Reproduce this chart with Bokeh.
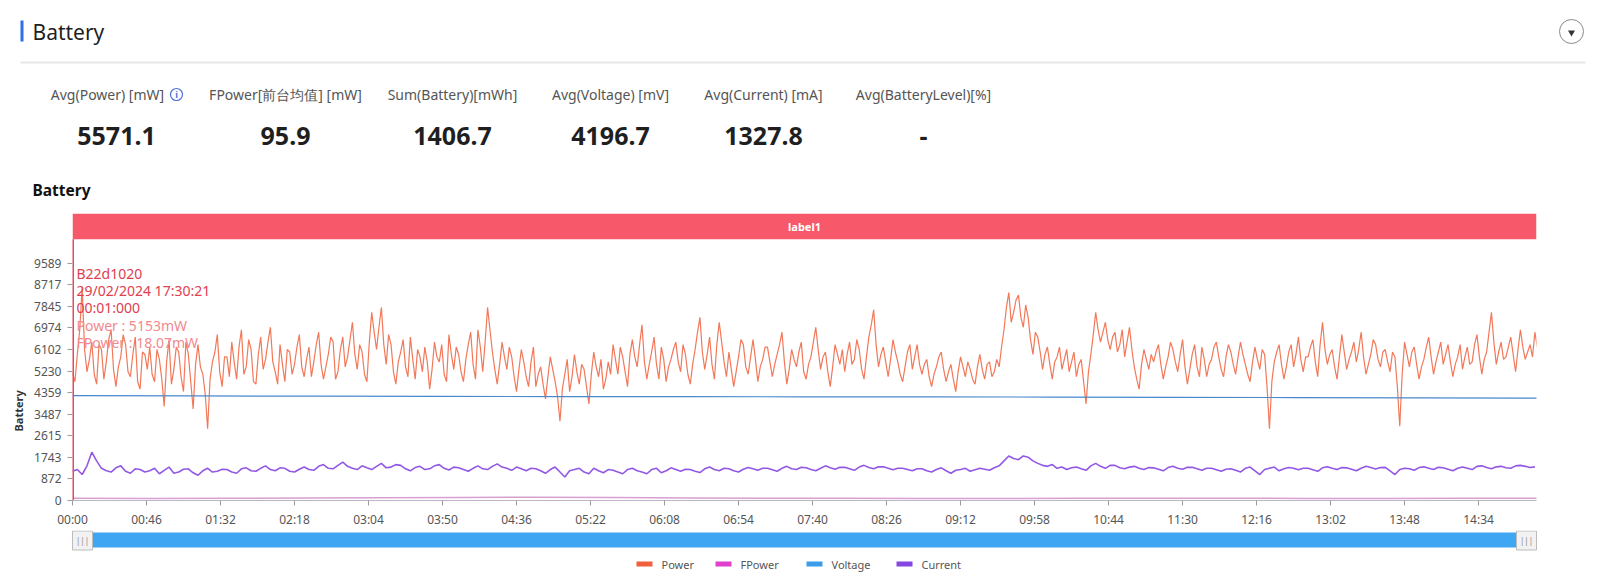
import numpy as np
from bokeh.plotting import figure
from bokeh.models import Range1d, FixedTicker, Title
from bokeh.embed import file_html
from bokeh.resources import INLINE
from bokeh.core.properties import value

# ---------------- data ----------------
page_title = "Battery"
chart_title = "Battery"
stat_labels = ["Avg(Power) [mW]", "FPower[前台均值] [mW]", "Sum(Battery)[mWh]",
               "Avg(Voltage) [mV]", "Avg(Current) [mA]", "Avg(BatteryLevel)[%]"]
stat_values = ["5571.1", "95.9", "1406.7", "4196.7", "1327.8", "-"]

series_names = ["Power", "FPower", "Voltage", "Current"]
series_colors = ["#f0603c", "#e040cc", "#3c9ce8", "#8646e2"]

band_label = "label1"
tooltip_lines = ["B22d1020", "29/02/2024 17:30:21", "00:01:000",
                 "Power :  5153mW", "FPower :  18.07mW"]

xtick_labels = ["00:00", "00:46", "01:32", "02:18", "03:04", "03:50", "04:36", "05:22",
                "06:08", "06:54", "07:40", "08:26", "09:12", "09:58", "10:44", "11:30",
                "12:16", "13:02", "13:48", "14:34"]
ytick_values = [0, 872, 1743, 2615, 3487, 4359, 5230, 6102, 6974, 7845, 8717, 9589]
x_end_min = 910

power_step = 1.5  # minutes between samples
power_mw = [
    5153, 4800, 5900, 6900, 8600, 6100, 5200, 5700, 6400, 5100, 4700, 6300, 6100, 4900, 5600, 6500,
    6900, 5300, 4600, 5400, 5800, 6700, 6300, 5200, 5000, 5900, 6600, 4800, 4500, 6000, 5900, 5300,
    6200, 5100, 4800, 6100, 5700, 4900, 3800, 5600, 6500, 4700, 5300, 6200, 6000, 5000, 4400, 6400,
    5900, 4800, 3700, 5500, 6300, 5400, 5100, 4300, 2900, 4900, 5600, 6000, 6700, 5200, 4600, 5800,
    5800, 5000, 6400, 5600, 4900, 6200, 6900, 5100, 5400, 6500, 6100, 4800, 4700, 5900, 6600, 5300,
    5700, 6400, 7000, 5600, 5200, 4700, 6300, 5500, 4800, 6100, 6000, 5100, 5500, 6200, 6700, 5400,
    5000, 5700, 6200, 5000, 5600, 6300, 6800, 5500, 4900, 5400, 5900, 6600, 6400, 4900, 5200, 6100,
    6600, 5400, 5800, 6500, 7200, 5900, 5300, 6300, 6000, 5100, 4800, 6400, 7600, 6800, 6100, 7000,
    7800, 6300, 5500, 6700, 6300, 5200, 4700, 5600, 6000, 6500, 5400, 5000, 6600, 5700, 4900, 6100,
    5800, 5200, 6200, 5600, 4500, 5300, 6400, 5800, 5600, 6300, 5100, 4800, 6700, 5900, 5300, 6200,
    5900, 5200, 4800, 5700, 6300, 6800, 5500, 4900, 6900, 6200, 5200, 6400, 7800, 6900, 6000, 5300,
    4700, 5500, 6400, 5800, 5300, 6200, 5800, 5000, 4400, 5300, 6100, 5600, 5000, 4600, 5600, 6200,
    4600, 5100, 5400, 4700, 4100, 5000, 5800, 5300, 4800, 4200, 3200, 4500, 5100, 5700, 4400, 5000,
    5900, 5200, 4700, 5500, 5300, 4600, 3900, 5100, 6000, 5400, 5000, 5700, 4500, 4900, 5600, 5100,
    6300, 5700, 5100, 6200, 5800, 5200, 4600, 5900, 6500, 5800, 5400, 6300, 7100, 5600, 4900, 5500,
    6000, 6600, 5500, 4900, 6200, 5700, 4800, 5400, 5700, 6100, 6400, 5600, 5200, 6300, 5900, 5100,
    4700, 5500, 6100, 6800, 7400, 6000, 5300, 5900, 6600, 5500, 4900, 6300, 7200, 6400, 5600, 5000,
    6000, 5300, 4600, 5200, 5800, 6500, 6300, 5400, 5100, 5800, 6500, 5700, 4800, 5400, 5700, 6200,
    6200, 5600, 5000, 5500, 5900, 6300, 6800, 5600, 4700, 5300, 6100, 5700, 5400, 6000, 6400, 5200,
    4900, 5500, 5800, 6400, 7000, 6100, 5300, 5800, 6000, 5200, 4600, 5400, 6300, 5900, 5500, 6100,
    5200, 5900, 6400, 5500, 5700, 6500, 6100, 5300, 4900, 5800, 6600, 7100, 7700, 6300, 5400, 5900,
    6200, 5600, 5000, 5700, 6500, 6000, 5600, 5100, 4800, 5400, 6000, 6300, 5300, 5800, 6300, 5500,
    5100, 5500, 5700, 5000, 4600, 5100, 5400, 5800, 6000, 5300, 4800, 5200, 5500, 4900, 4400, 5200,
    5800, 5400, 5000, 5600, 5300, 4900, 4700, 5400, 5900, 5300, 4900, 5500, 5600, 5000, 5200, 5700,
    5400, 6200, 6900, 7800, 8400, 7200, 7600, 8100, 8300, 7400, 7000, 7900, 7400, 6500, 5900, 6800,
    6600, 6000, 5300, 5900, 6200, 5500, 4900, 5600, 5800, 6200, 5300, 5700, 6100, 5200, 5600, 6000,
    5000, 5500, 5700, 4800, 3900, 5200, 5900, 6700, 7600, 6900, 6400, 6800, 7200, 6500, 6100, 6600,
    6800, 6000, 6300, 6900, 5800, 6400, 7000, 6100, 5400, 4900, 4500, 5500, 6100, 5700, 5300, 5900,
    5600, 6000, 6300, 5500, 4900, 5400, 5800, 6400, 6100, 5600, 5200, 5900, 6500, 5400, 4700, 5300,
    5900, 6300, 5400, 5000, 6200, 5700, 5000, 5500, 5700, 6200, 6400, 5800, 5300, 5000, 5800, 6300,
    6000, 5500, 5100, 5800, 6400, 5900, 5500, 5100, 4800, 5600, 6200, 5700, 5300, 6100, 5900, 4600,
    2900, 4800, 5600, 6000, 6300, 5500, 4900, 5400, 6000, 6300, 5400, 5900, 6600, 5700, 5200, 5800,
    5800, 6200, 6500, 5600, 5000, 6300, 7200, 6100, 5500, 5900, 6100, 5400, 4900, 5800, 6700, 6000,
    5300, 5700, 6000, 6400, 5600, 6100, 6800, 5800, 5100, 5500, 5900, 6500, 6300, 5700, 5400, 6000,
    6100, 5600, 5200, 6000, 5800, 4600, 3000, 5100, 6400, 5900, 5400, 6000, 6200, 5500, 4900, 5400,
    5700, 6200, 6600, 5800, 5100, 5600, 6000, 6400, 5500, 5900, 6300, 5600, 5000, 5500, 5800, 6300,
    5300, 5800, 6200, 5500, 5600, 6300, 6700, 5800, 5100, 5700, 6000, 6800, 7600, 6400, 5500, 6000,
    6400, 5700, 5800, 6200, 6600, 5900, 5200, 6100, 6900, 6200, 5700, 6000, 6300, 5800, 6800, 6200,
]

current_step = 3
current_ma = [
    1180, 1250, 1050, 1400, 1950, 1600, 1300, 1200, 1150, 1320, 1400, 1180, 1100, 1280, 1250, 1150,
    1200, 1300, 1080, 1220, 1350, 1100, 1150, 1260, 1280, 1120, 1020, 1200, 1300, 1150, 1180, 1260,
    1250, 1150, 1100, 1280, 1320, 1200, 1180, 1300, 1400, 1250, 1200, 1320, 1300, 1180, 1150, 1260,
    1350, 1250, 1220, 1380, 1450, 1300, 1280, 1420, 1550, 1380, 1300, 1250, 1400, 1320, 1250, 1380,
    1500, 1320, 1350, 1450, 1420, 1280, 1200, 1330, 1380, 1250, 1280, 1400, 1450, 1300, 1230, 1350,
    1320, 1250, 1180, 1300, 1400, 1280, 1250, 1380, 1480, 1350, 1300, 1220, 1350, 1280, 1200, 1300,
    1280, 1200, 1100, 1250, 1350, 1150, 950, 1200, 1250, 1300, 1150, 1080, 1300, 1200, 1120, 1250,
    1220, 1150, 1080, 1250, 1300, 1200, 1150, 1080, 1250, 1300, 1120, 1200, 1320, 1250, 1180, 1260,
    1250, 1180, 1130, 1280, 1350, 1250, 1200, 1300, 1280, 1200, 1150, 1260, 1330, 1280, 1220, 1300,
    1300, 1240, 1180, 1300, 1380, 1280, 1250, 1340, 1320, 1250, 1200, 1300, 1400, 1320, 1260, 1340,
    1340, 1280, 1220, 1350, 1420, 1330, 1280, 1360, 1360, 1300, 1240, 1300, 1300, 1250, 1200, 1280,
    1280, 1200, 1150, 1250, 1320, 1200, 1100, 1220, 1250, 1300, 1180, 1240, 1300, 1260, 1220, 1320,
    1400, 1600, 1800, 1700, 1650, 1800, 1750, 1600, 1500, 1420, 1380, 1450, 1300, 1350, 1250, 1320,
    1350, 1280, 1220, 1400, 1500, 1380, 1300, 1420, 1420, 1320, 1280, 1350, 1380, 1300, 1250, 1330,
    1320, 1260, 1200, 1330, 1380, 1300, 1260, 1340, 1340, 1280, 1220, 1300, 1300, 1240, 1180, 1260,
    1280, 1220, 1150, 1300, 1350, 1200, 1050, 1250, 1300, 1350, 1200, 1280, 1330, 1300, 1240, 1300,
    1300, 1240, 1180, 1320, 1360, 1300, 1250, 1330, 1320, 1260, 1200, 1300, 1380, 1330, 1270, 1330,
    1340, 1200, 1050, 1250, 1300, 1280, 1220, 1330, 1360, 1300, 1250, 1340, 1320, 1260, 1200, 1300,
    1350, 1300, 1250, 1380, 1400, 1330, 1280, 1360, 1380, 1320, 1300, 1400, 1420, 1380, 1330, 1360,
]

voltage_step = 76
voltage_mv = [4235, 4225, 4215, 4205, 4200, 4195, 4190, 4185, 4180, 4170, 4160, 4150, 4135]

fpower_step = 48
fpower_mw = [90, 85, 90, 100, 110, 125, 130, 120, 105, 95, 90, 85, 80, 90, 95, 90, 85, 80, 90, 95]

# ---------------- layout geometry (page pixels, page origin at 0,0) ----------------
W = 1600
FONT = "Noto Sans"
HEAD_H = 200          # header: page y 0..200
CHART_Y0 = 200
CHART_H = 330         # chart: page y 200..530
FOOT_Y0 = 530
FOOT_H = 48           # footer: page y 530..578
FRAME_TOP = 213
BAND_BOTTOM = 239
YMAX_TICK_Y = 263
FRAME_BOTTOM = 502
FRAME_LEFT = 72
FRAME_RIGHT = 1536

y_top = ytick_values[-1] * (FRAME_BOTTOM - FRAME_TOP) / (FRAME_BOTTOM - YMAX_TICK_Y)
band_bottom = ytick_values[-1] * (FRAME_BOTTOM - BAND_BOTTOM) / (FRAME_BOTTOM - YMAX_TICK_Y)


def y_at(page_y):
    return (FRAME_BOTTOM - page_y) / (FRAME_BOTTOM - FRAME_TOP) * y_top


def x_at(page_x):
    return (page_x - FRAME_LEFT) / (FRAME_RIGHT - FRAME_LEFT) * x_end_min


def to_min(s):
    hh, mm = s.split(":")
    return int(hh) * 60 + int(mm)


xtick_min = [to_min(s) for s in xtick_labels]


def pixel_fig(height):
    f = figure(width=W, height=height, x_range=Range1d(0, W), y_range=Range1d(height, 0),
               output_backend="svg", toolbar_location=None, x_axis_location=None,
               y_axis_location=None, min_border=0, outline_line_color=None)
    f.grid.visible = False
    return f


def txt(f, x, y, text, size, color, bold=False, align="left"):
    f.text(x=x, y=y, text=text, text_font=value(FONT), text_font_size=size,
           text_color=color, text_font_style="bold" if bold else "normal",
           text_align=align, text_baseline="middle")


# ---------------- header ----------------
h = pixel_fig(HEAD_H)
h.quad(left=[20], right=[23], top=[20], bottom=[41], fill_color="#2f6fe8", line_color=None)
txt(h, [32], [31], [page_title], "21px", "#1f1f1f")
h.circle(x=[1571], y=[31], radius=12, fill_color="white", line_color="#8a8a8a", line_width=1)
h.scatter(x=[1571], y=[32], marker="inverted_triangle", size=7, fill_color="#333",
          line_color=None)
h.segment(x0=[20], y0=[62], x1=[1585], y1=[62], line_color="#e8e8e8", line_width=2)

label_centers = [107, 285, 452, 610, 763, 923]
value_centers = [116, 285, 452, 610, 763, 923]
txt(h, label_centers, [94] * len(stat_labels), stat_labels, "14px", "#555555", align="center")
txt(h, value_centers, [135] * len(stat_values), stat_values, "25px", "#1f1f1f", bold=True,
    align="center")
h.circle(x=[176], y=[94], radius=6, fill_color="white", line_color="#4f6fd8", line_width=1.2)
txt(h, [176], [94], ["i"], "9px", "#4f6fd8", bold=True, align="center")
txt(h, [32], [189], [chart_title], "15.5px", "#111111", bold=True)

# ---------------- chart ----------------
p = figure(width=W, height=CHART_H, x_range=Range1d(0, x_end_min), y_range=Range1d(0, y_top),
           output_backend="svg", toolbar_location=None,
           min_border_left=FRAME_LEFT, min_border_right=W - FRAME_RIGHT,
           min_border_top=FRAME_TOP - CHART_Y0,
           min_border_bottom=(CHART_Y0 + CHART_H) - FRAME_BOTTOM,
           outline_line_color=None)
p.xgrid.grid_line_color = None
p.ygrid.grid_line_color = None

p.yaxis.ticker = FixedTicker(ticks=ytick_values)
p.yaxis.major_label_overrides = {v: str(v) for v in ytick_values}
p.yaxis.axis_line_color = None
p.yaxis.major_tick_line_color = "#9a9a9a"
p.yaxis.major_tick_out = 5
p.yaxis.major_tick_in = 0
p.yaxis.minor_tick_line_color = None
p.yaxis.major_label_text_font = FONT
p.yaxis.major_label_text_font_size = "12px"
p.yaxis.major_label_text_color = "#555555"
p.yaxis.major_label_standoff = 6

# y-axis title, placed along the left panel (offset measured up from the frame bottom)
p.add_layout(Title(text="Battery", text_font=FONT, text_font_size="11px",
                   text_font_style="bold", text_color="#333333", align="left",
                   offset=69, standoff=12), "left")

p.xaxis.ticker = FixedTicker(ticks=xtick_min)
p.xaxis.major_label_overrides = dict(zip(xtick_min, xtick_labels))
p.xaxis.axis_line_color = "#bdb6c4"
p.xaxis.major_tick_line_color = "#9a9a9a"
p.xaxis.major_tick_out = 5
p.xaxis.major_tick_in = 0
p.xaxis.minor_tick_line_color = None
p.xaxis.major_label_text_font = FONT
p.xaxis.major_label_text_font_size = "12px"
p.xaxis.major_label_text_color = "#555555"
p.xaxis.major_label_standoff = 5

t_power = np.arange(len(power_mw)) * power_step
t_current = np.arange(len(current_ma)) * current_step
t_voltage = np.arange(len(voltage_mv)) * voltage_step
t_fpower = np.arange(len(fpower_mw)) * fpower_step

p.line(t_power, power_mw, line_color=series_colors[0], line_width=1.2, line_alpha=0.85)
p.line(t_voltage, voltage_mv, line_color="#4a88cc", line_width=1.2)
p.line(t_current, current_ma, line_color=series_colors[3], line_width=1.6, line_alpha=0.9)
p.line(t_fpower, fpower_mw, line_color="#d6a0d0", line_width=1.5)

p.quad(left=[0], right=[x_end_min], bottom=[band_bottom], top=[y_top],
       fill_color="#f7586a", line_color=None)
p.text(x=[x_end_min / 2], y=[(band_bottom + y_top) / 2], text=[band_label],
       text_font=value(FONT), text_font_size="11px", text_font_style="bold",
       text_color="white", text_align="center", text_baseline="middle")

p.segment(x0=[t_power[0]], y0=[0], x1=[t_power[0]], y1=[band_bottom],
          line_color="#e8485c", line_width=3)

tip_y0 = 273
tip_dy = 17.5
tip_colors = ["#e0404e", "#e0404e", "#e0404e", "#f08a8f", "#f08a8f"]
p.text(x=[x_at(76)] * len(tooltip_lines),
       y=[y_at(tip_y0 + i * tip_dy) for i in range(len(tooltip_lines))],
       text=tooltip_lines, text_font=value(FONT), text_font_size="14px",
       text_color=tip_colors, text_baseline="middle")

# ---------------- footer: slider + legend ----------------
f = pixel_fig(FOOT_H)
fy = lambda page_y: page_y - FOOT_Y0
f.quad(left=[FRAME_LEFT], right=[FRAME_RIGHT], top=[fy(532)], bottom=[fy(547)],
       fill_color="#3ea6f2", line_color=None)
f.quad(left=[FRAME_LEFT, FRAME_RIGHT - 20], right=[FRAME_LEFT + 20, FRAME_RIGHT],
       top=[fy(530.5)] * 2, bottom=[fy(549.5)] * 2, fill_color="#f2f2f2", line_color="#bcbcbc")
txt(f, [FRAME_LEFT + 10, FRAME_RIGHT - 10], [fy(540)] * 2, ["|||", "|||"], "8px", "#888888",
    align="center")

leg_sw = [636, 715, 806, 896]
f.quad(left=leg_sw, right=[s + 16 for s in leg_sw], top=[fy(561)] * 4, bottom=[fy(566)] * 4,
       fill_color=series_colors, line_color=None)
txt(f, [s + 25 for s in leg_sw], [fy(563.5)] * 4, series_names, "11px", "#555555")

open("out.html", "w").write(file_html([h, p, f], INLINE))
